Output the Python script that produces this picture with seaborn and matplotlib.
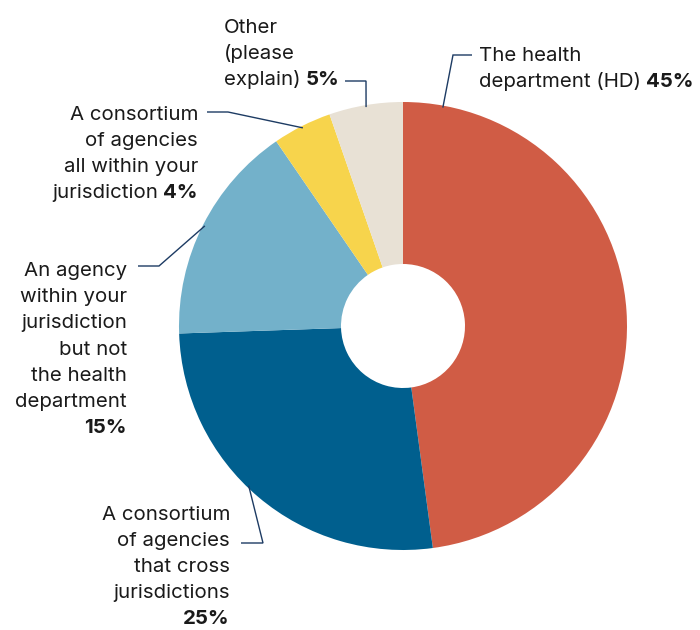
import matplotlib
matplotlib.use("Agg")
import matplotlib.pyplot as plt
import seaborn as sns
import numpy as np

# Survey responses: who leads the effort
categories = [
    "The health department (HD)",
    "A consortium of agencies that cross jurisdictions",
    "An agency within your jurisdiction but not the health department",
    "A consortium of agencies all within your jurisdiction",
    "Other (please explain)",
]
shares = [45, 25, 15, 4, 5]
label_lines = [
    ["The health", "department (HD)"],
    ["A consortium", "of agencies", "that cross", "jurisdictions", ""],
    ["An agency", "within your", "jurisdiction", "but not", "the health", "department", ""],
    ["A consortium", "of agencies", "all within your", "jurisdiction"],
    ["Other", "(please", "explain)"],
]
colors = ["#D05C45", "#005F8E", "#73B1CA", "#F7D44C", "#E8E1D5"]

sns.set_theme(style="white")
plt.rcParams["font.family"] = ["Inter", "DejaVu Sans"]

W, H = 700, 630
fig = plt.figure(figsize=(W / 100, H / 100), dpi=100)
ax = fig.add_axes([0, 0, 1, 1])
ax.set_xlim(0, W)
ax.set_ylim(0, H)
ax.set_axis_off()

cx, cy, R, r_in = 403, H - 326, 224, 62
wedges, _ = ax.pie(
    shares, colors=sns.color_palette(colors), startangle=90, counterclock=False,
    center=(cx, cy), radius=R, wedgeprops=dict(width=R - r_in, linewidth=0),
    frame=False,
)
ax.set_xlim(0, W)
ax.set_ylim(0, H)
ax.set_aspect("equal")

# label layout: anchor x, first baseline (px from top), alignment,
# leader start x, elbow x, leader y, position of the leader tip within the wedge
layout = [
    dict(x=479, y0=61, ha="left", lx0=472, lx1=453, ly=55, frac=0.06),
    dict(x=230, y0=519.5, ha="right", lx0=241, lx1=263, ly=543, frac=0.54),
    dict(x=127, y0=276, ha="right", lx0=138, lx1=159, ly=266, frac=0.5),
    dict(x=198, y0=119.5, ha="right", lx0=207, lx1=228, ly=112, frac=0.5),
    dict(x=224, y0=33, ha="left", lx0=345, lx1=366, ly=81, frac=0.5),
]

fs = 14.7
lh = 26.2
ink = "#1a1a1a"
line_col = "#1D3B63"
renderer = fig.canvas.get_renderer()

for lines, val, lay, w in zip(label_lines, shares, layout, wedges):
    pct = f"{val}%"
    for i, ln in enumerate(lines):
        yb = H - (lay["y0"] + i * lh)
        last = i == len(lines) - 1
        if not last:
            ax.text(lay["x"], yb, ln, ha=lay["ha"], va="baseline", fontsize=fs, color=ink)
            continue
        if ln == "":
            ax.text(lay["x"], yb, pct, ha=lay["ha"], va="baseline", fontsize=fs,
                    color=ink, fontweight="bold")
        elif lay["ha"] == "left":
            t = ax.text(lay["x"], yb, ln, ha="left", va="baseline", fontsize=fs, color=ink)
            wpx = t.get_window_extent(renderer).width
            ax.text(lay["x"] + wpx + 5, yb, pct, ha="left", va="baseline",
                    fontsize=fs, color=ink, fontweight="bold")
        else:
            b = ax.text(lay["x"], yb, pct, ha="right", va="baseline", fontsize=fs,
                        color=ink, fontweight="bold")
            wpx = b.get_window_extent(renderer).width
            ax.text(lay["x"] - wpx - 5, yb, ln, ha="right", va="baseline",
                    fontsize=fs, color=ink)

    # leader line to the outer edge of the wedge
    t1, t2 = w.theta1, w.theta2
    ang = np.deg2rad(t2 - lay["frac"] * (t2 - t1))
    ex, ey = cx + (R - 2) * np.cos(ang), cy + (R - 2) * np.sin(ang)
    ax.plot([lay["lx0"], lay["lx1"], ex], [H - lay["ly"], H - lay["ly"], ey],
            color=line_col, lw=1.0, solid_capstyle="butt", solid_joinstyle="miter")

fig.savefig("out.png", dpi=100, facecolor="white")
